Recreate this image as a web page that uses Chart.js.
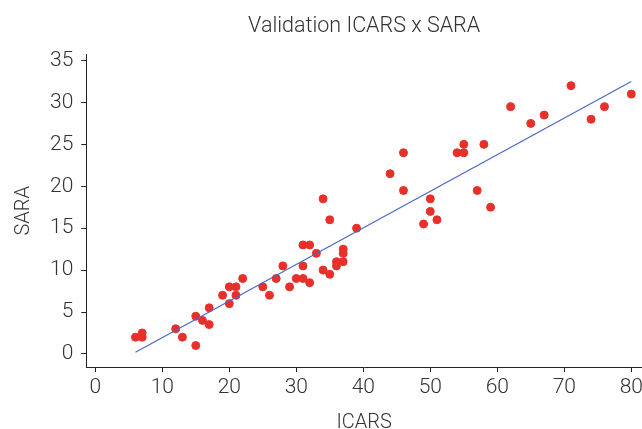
<!DOCTYPE html>
<html>
<head>
<meta charset="utf-8">
<script src="https://cdn.jsdelivr.net/npm/chart.js@4"></script>
<style>
  html, body { margin: 0; padding: 0; background: #fff; }
  #wrap { width: 642px; height: 429px; position: relative; }
</style>
</head>
<body>
<div id="wrap"><canvas id="chart"></canvas></div>
<script>
// ICARS (x) vs SARA (y)
const icars = [6, 7, 7, 12, 13, 15, 15, 16, 17, 17, 19, 20, 20, 21, 21, 22, 25, 26, 27, 28,
    29, 30, 31, 32, 31, 31, 32, 33, 34, 35, 34, 35, 36, 36, 37, 37, 37, 39, 44, 46,
    46, 49, 50, 50, 51, 54, 55, 55, 57, 58, 59, 62, 65, 67, 71, 74, 76, 80];
const sara = [2, 2.5, 2, 3, 2, 1, 4.5, 4, 3.5, 5.5, 7, 6, 8, 8, 7, 9, 8, 7, 9, 10.5,
    8, 9, 9, 8.5, 10.5, 13, 13, 12, 10, 9.5, 18.5, 16, 11, 10.5, 12.5, 12, 11, 15, 21.5, 24,
    19.5, 15.5, 18.5, 17, 16, 24, 25, 24, 19.5, 25, 17.5, 29.5, 27.5, 28.5, 32, 28, 29.5, 31];

// fitted line end points
const fitX = [6, 80];
const fitY = [0.2, 32.5];

const xTicks = [0, 10, 20, 30, 40, 50, 60, 70, 80];
const yTicks = [0, 5, 10, 15, 20, 25, 30, 35];

const FONT = "Roboto, 'Liberation Sans', sans-serif";
const TEXT = '#333';

Chart.defaults.font.family = FONT;
Chart.defaults.color = TEXT;

const points = icars.map((x, i) => ({ x: x, y: sara[i] }));
const fit = fitX.map((x, i) => ({ x: x, y: fitY[i] }));

new Chart(document.getElementById('chart'), {
    type: 'scatter',
    data: {
        datasets: [
            {
                type: 'line',
                data: fit,
                borderColor: '#4b68c6',
                borderWidth: 1.2,
                pointRadius: 0,
                fill: false
            },
            {
                data: points,
                backgroundColor: '#e8302b',
                borderColor: '#e8302b',
                pointRadius: 4,
                pointHoverRadius: 4
            }
        ]
    },
    options: {
        responsive: true,
        maintainAspectRatio: false,
        animation: false,
        layout: { autoPadding: false, padding: { left: 14, right: 0, top: 0, bottom: 0 } },
        plugins: {
            legend: { display: false },
            tooltip: { enabled: false },
            title: {
                display: true,
                fullSize: false,
                text: 'Validation ICARS x SARA',
                font: { size: 21.5, weight: '300', lineHeight: 1 },
                color: TEXT,
                padding: { top: 16, bottom: 17 }
            }
        },
        scales: {
            x: {
                type: 'linear',
                min: -1.34,
                max: 81.6,
                afterBuildTicks: s => { s.ticks = xTicks.map(v => ({ value: v })); },
                // let the last label run off the edge like the original
                afterFit: s => { s.paddingRight = 0; s.paddingLeft = 0; },
                grid: { drawOnChartArea: false, tickLength: 5, color: '#222' },
                border: { color: '#222', width: 1 },
                ticks: { font: { size: 21, weight: '300', lineHeight: 1 }, color: TEXT, padding: 5, maxRotation: 0 },
                title: { display: true, text: 'ICARS', font: { size: 20, weight: '300', lineHeight: 0.6 }, color: TEXT, padding: { top: 14, bottom: 0 } }
            },
            y: {
                type: 'linear',
                min: -1.56,
                max: 35.72,
                afterBuildTicks: s => { s.ticks = yTicks.map(v => ({ value: v })); },
                grid: { drawOnChartArea: false, tickLength: 5, color: '#222' },
                border: { color: '#222', width: 1 },
                ticks: { font: { size: 21, weight: '300', lineHeight: 1 }, color: TEXT, padding: 8 },
                title: { display: true, text: 'SARA', font: { size: 20, weight: '300', lineHeight: 1 }, color: TEXT, padding: { top: 0, bottom: 8 } }
            }
        }
    }
});
</script>
</body>
</html>
